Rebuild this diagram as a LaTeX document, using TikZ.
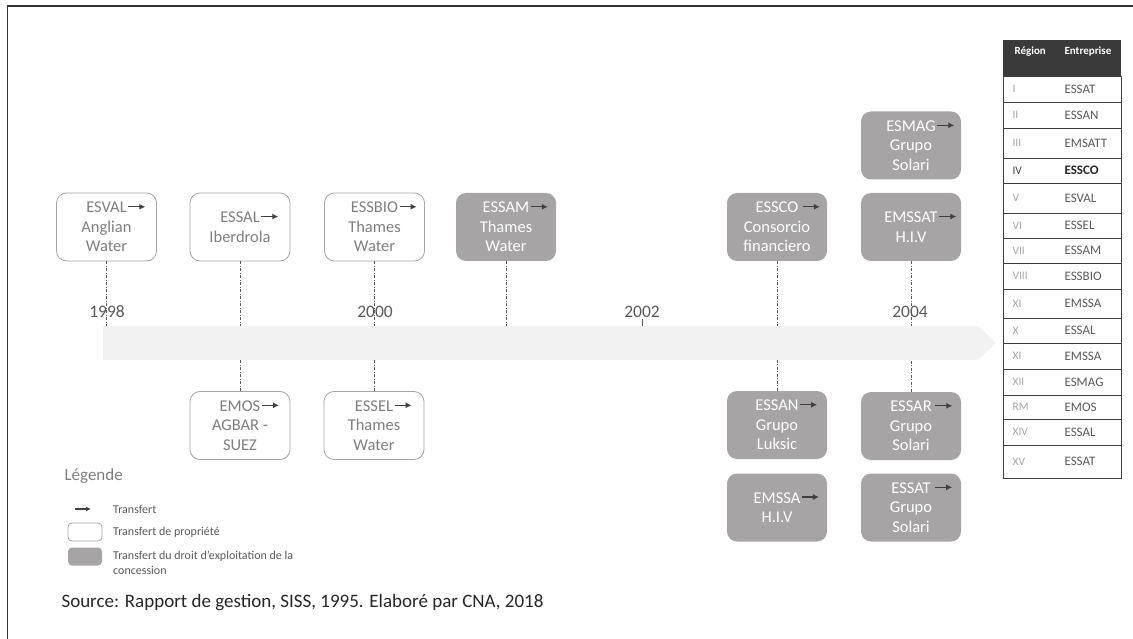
\documentclass[tikz,border=0pt]{standalone}
\usepackage{fontspec}
\setmainfont{Carlito}
\usepackage{tikz}
\usetikzlibrary{arrows.meta, positioning, calc}

\definecolor{bandgray}{HTML}{F2F2F2}
\definecolor{boxgray}{HTML}{A6A4A4}
\definecolor{txtgray}{HTML}{7F7F7F}
\definecolor{linegray}{HTML}{595959}
\definecolor{arrowcol}{HTML}{404040}
\definecolor{headgray}{HTML}{3A3A3A}

\newcommand{\tarrow}[1][1pt]{\rlap{\hspace{#1}\tikz[baseline=-6pt]\draw[arrowcol, line width=1.2pt, -{Latex[length=6pt, width=6pt]}] (0pt,0pt) -- (17pt,0pt);}}

\begin{document}
\begin{tikzpicture}[
    x=1pt, y=-1pt,
    propbox/.style={draw=boxgray, line width=0.8pt, rounded corners=10pt, fill=white, text=txtgray,
        minimum width=100pt, minimum height=68pt, inner sep=0pt, align=center,
        font=\fontsize{16.5}{19.5}\selectfont},
    concbox/.style={propbox, draw=none, fill=boxgray, text=white},
    stem/.style={draw=linegray, line width=0.7pt, dash pattern=on 3pt off 1.5pt on 1pt off 1.5pt},
    yearlbl/.style={text=linegray, font=\fontsize{17.5}{20}\selectfont, inner sep=1pt},
    tabline/.style={draw=arrowcol, line width=0.8pt},
    romlbl/.style={anchor=west, text=boxgray, font=\fontsize{11.5}{13}\selectfont},
    entlbl/.style={anchor=west, text=linegray, font=\fontsize{13}{15}\selectfont},
    legtxt/.style={anchor=west, text=linegray, font=\fontsize{12}{14.5}\selectfont, inner sep=0pt}
]
    \useasboundingbox (0,0) rectangle (1133,639);
    \draw[line width=1.2pt, black!80] (1133,6) -- (7.5,6) -- (7.5,639);

    % frise
    \fill[bandgray] (103,326) -- (978,326) -- (996,343) -- (978,360) -- (103,360) -- cycle;
    \coordinate (bandtop) at (103,326);
    \coordinate (bandbot) at (103,360);

    \node[yearlbl] (y1998) at (107,312) {1998};
    \node[yearlbl] (y2000) at (375,312) {2000};
    \node[yearlbl] (y2002) at (642,312) {2002};
    \node[yearlbl] (y2004) at (910,312) {2004};

    % au-dessus de la frise
    \node[propbox] (esval) at (106.5,227) {ESVAL\tarrow\\Anglian\\Water};
    \node[propbox] (essal) at (240,227) {ESSAL\tarrow\\Iberdrola};
    \node[propbox] (essbio) at (374.5,227) {ESSBIO\tarrow\\Thames\\Water};
    \node[concbox] (essam) at (506,227) {ESSAM\tarrow\\Thames\\Water};
    \node[concbox] (essco) at (777,227) {ESSCO\tarrow[4pt]\\Consorcio\\financiero};
    \node[concbox] (emssat) at (911,227) {EMSSAT\tarrow\\H.I.V};
    \node[concbox] (esmag) at (911,145.5) {ESMAG\tarrow\\Grupo\\Solari};

    % au-dessous de la frise
    \node[propbox] (emos) at (240,425.5) {EMOS\tarrow\\AGBAR -\\SUEZ};
    \node[propbox] (essel) at (374,425.5) {ESSEL\tarrow\\Thames\\Water};
    \node[concbox] (essan) at (777,425) {ESSAN\tarrow\\Grupo\\Luksic};
    \node[concbox] (essar) at (911,426) {ESSAR\tarrow[3pt]\\Grupo\\Solari};
    \node[concbox] (emssa) at (777,507.5) {EMSSA\tarrow\\H.I.V};
    \node[concbox] (essat) at (911,507.5) {ESSAT\tarrow[4pt]\\Grupo\\Solari};

    \draw[stem] (esval) -- (esval |- bandtop);
    \draw[stem] (essal) -- (essal |- bandtop);
    \draw[stem] (essbio) -- (essbio |- bandtop);
    \draw[stem] (essam) -- (essam |- bandtop);
    \draw[stem] (essco) -- (essco |- bandtop);
    \draw[stem] (emssat) -- (emssat |- bandtop);
    \draw[stem] (emos) -- (emos |- bandbot);
    \draw[stem] (essel) -- (essel |- bandbot);
    \draw[stem] (essan) -- (essan |- bandbot);
    \draw[stem] (essar) -- (essar |- bandbot);
    \draw[linegray, line width=0.6pt] (y2002.south) -- (y2002.south |- bandtop);

    % tableau
    \fill[headgray] (1003,40) rectangle (1121,76);
    \node[anchor=west, text=white, font=\bfseries\fontsize{11}{13}\selectfont] (hreg) at (1011,52) {Région};
    \node[anchor=west, text=white, font=\bfseries\fontsize{11}{13}\selectfont] (hent) at (1061,52) {Entreprise};
    \foreach \r/\c/\ya/\yb in {I/ESSAT/76/102, II/ESSAN/102/128, III/EMSATT/128/158,
        V/ESVAL/183/213, VI/ESSEL/213/238, VII/ESSAM/238/263, VIII/ESSBIO/263/289,
        XI/EMSSA/289/318, X/ESSAL/318/343, XI/EMSSA/343/369, XII/ESMAG/369/395,
        RM/EMOS/395/419, XIV/ESSAL/419/445, XV/ESSAT/445/478} {
        \draw[tabline] (1003,\ya) rectangle (1121,\yb);
        \node[romlbl] (rom-\ya) at (1009,{(\ya+\yb)/2}) {\r};
        \node[entlbl] (ent-\ya) at (1061,{(\ya+\yb)/2}) {\c};
    }
    \draw[tabline] (1003,158) rectangle (1121,183);
    \node[romlbl, text=arrowcol] (rom-158) at (1009,170.5) {IV};
    \node[entlbl, text=black!85, font=\bfseries\fontsize{13}{15}\selectfont] (ent-158) at (1061,170.5) {ESSCO};

    % légende
    \node[anchor=west, text=txtgray, font=\fontsize{17}{20}\selectfont] (legtitle) at (61,476) {Légende};
    \coordinate (la) at (75,509);
    \coordinate (lb) at (91,509);
    \draw[arrowcol, line width=1.1pt, -{Latex[length=5pt, width=5pt]}] (la) -- (lb);
    \node[legtxt] (lt1) at (113,509) {Transfert};
    \node[draw=boxgray, line width=0.8pt, fill=white, rounded corners=4pt, minimum width=34pt, minimum height=18pt] (lbox1) at (85,532) {};
    \node[legtxt] (lt2) at (113,532) {Transfert de propriété};
    \node[fill=boxgray, rounded corners=4pt, minimum width=34pt, minimum height=18pt] (lbox2) at (85,556.5) {};
    \node[legtxt, anchor=north west, align=left] (lt3) at (113,551) {Transfert du droit d’exploitation de la\\concession};

    \node[anchor=west, text=black!85, font=\fontsize{19}{22}\selectfont] (src) at (58,603) {Source: Rapport de gestion, SISS, 1995. Elaboré par CNA, 2018};
\end{tikzpicture}
\end{document}
